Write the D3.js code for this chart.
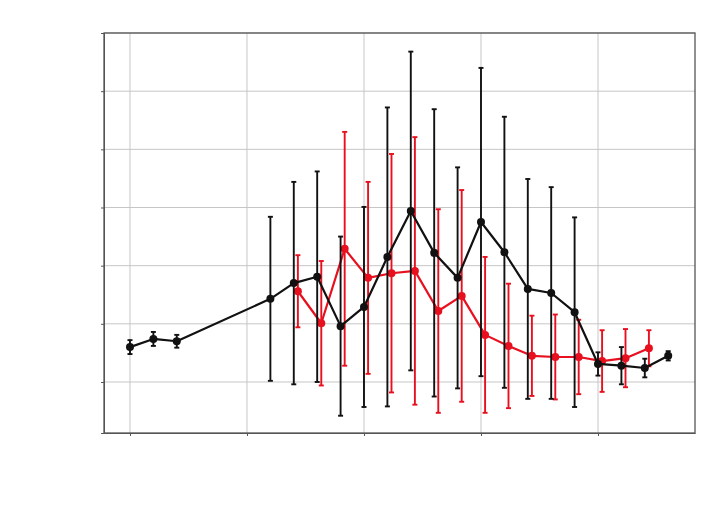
<!DOCTYPE html>
<meta charset="utf-8">
<style>
    body { margin: 0; background: #fff; }
    .grid line { stroke: #c6c6c6; stroke-width: 1px; }
    .axis path, .axis line { stroke: #555; }
    .frame { fill: none; stroke: #555; stroke-width: 1.3px; }
    .series { fill: none; stroke-width: 2.2px; stroke-linejoin: round; }
</style>
<svg width="721" height="519">
    <rect fill="#fff" width="100%" height="100%"></rect>
</svg>
<script src="https://cdn.jsdelivr.net/npm/d3@7"></script>
<script>

    // black series
    var blackX   = [0, 2, 4, 12, 14, 16, 18, 20, 22, 24, 26, 28, 30, 32, 34, 36, 38, 40, 42, 44, 46];
    var blackY   = [1.60, 1.74, 1.70, 2.43, 2.70, 2.81, 1.96, 2.29, 3.15, 3.94, 3.22, 2.79, 3.75, 3.23, 2.60, 2.53, 2.20, 1.31, 1.28, 1.24, 1.45];
    var blackErr = [0.12, 0.12, 0.11, 1.41, 1.74, 1.81, 1.54, 1.72, 2.57, 2.74, 2.47, 1.90, 2.65, 2.33, 1.89, 1.82, 1.63, 0.20, 0.32, 0.16, 0.08];

    // red series
    var redX   = [14.35, 16.35, 18.35, 20.35, 22.35, 24.35, 26.35, 28.35, 30.35, 32.35, 34.35, 36.35, 38.35, 40.35, 42.35, 44.35];
    var redY   = [2.56, 2.01, 3.29, 2.79, 2.87, 2.91, 2.22, 2.48, 1.81, 1.62, 1.45, 1.43, 1.43, 1.36, 1.41, 1.58];
    var redErr = [0.62, 1.07, 2.01, 1.65, 2.05, 2.30, 1.75, 1.82, 1.34, 1.07, 0.69, 0.73, 0.64, 0.53, 0.50, 0.31];

    var xTicks = [0, 10, 20, 30, 40];
    var yTicks = [1, 2, 3, 4, 5, 6, 7];

    var margin = {top: 33, right: 26, bottom: 86, left: 104},
        width = 721 - margin.left - margin.right,
        height = 519 - margin.top - margin.bottom;

    var svg = d3.select("svg");
    var g = svg.append("g").attr("transform", "translate(" + margin.left + "," + margin.top + ")");

    var x = d3.scaleLinear().domain([-2.22, 48.29]).range([0, width]);
    var y = d3.scaleLinear().domain([0.123, 7]).range([height, 0]);

    // grid
    g.append("g").attr("class", "grid")
        .selectAll("line.v").data(xTicks).enter().append("line")
        .attr("x1", x).attr("x2", x).attr("y1", 0).attr("y2", height);
    g.append("g").attr("class", "grid")
        .selectAll("line.h").data(yTicks).enter().append("line")
        .attr("y1", y).attr("y2", y).attr("x1", 0).attr("x2", width);

    // axes, no labels
    g.append("g").attr("class", "axis")
        .attr("transform", "translate(0," + height + ")")
        .call(d3.axisBottom(x).tickValues(xTicks).tickFormat("").tickSize(3).tickSizeOuter(0));
    g.append("g").attr("class", "axis")
        .call(d3.axisLeft(y).tickValues(yTicks).tickFormat("").tickSize(3).tickSizeOuter(3));

    g.append("rect").attr("class", "frame").attr("width", width).attr("height", height);

    function drawSeries(xs, ys, errs, color)
    {
        var data = xs.map(function (d, i) { return {x: d, y: ys[i], e: errs[i]}; });
        var s = g.append("g");

        // error bars
        var eb = s.selectAll("g.eb").data(data).enter().append("g")
            .attr("stroke", color).attr("stroke-width", 1.9);
        eb.append("line")
            .attr("x1", function (d) { return x(d.x); })
            .attr("x2", function (d) { return x(d.x); })
            .attr("y1", function (d) { return y(d.y - d.e); })
            .attr("y2", function (d) { return y(d.y + d.e); });
        [-1, 1].forEach(function (sgn)
        {
            eb.append("line")
                .attr("x1", function (d) { return x(d.x) - 2.5; })
                .attr("x2", function (d) { return x(d.x) + 2.5; })
                .attr("y1", function (d) { return y(d.y + sgn * d.e); })
                .attr("y2", function (d) { return y(d.y + sgn * d.e); });
        });

        var line = d3.line().x(function (d) { return x(d.x); }).y(function (d) { return y(d.y); });
        s.append("path").datum(data).attr("class", "series").attr("stroke", color).attr("d", line);

        s.selectAll("circle").data(data).enter().append("circle")
            .attr("cx", function (d) { return x(d.x); })
            .attr("cy", function (d) { return y(d.y); })
            .attr("r", 4)
            .attr("fill", color);
    }

    drawSeries(redX, redY, redErr, "#e8101e");
    drawSeries(blackX, blackY, blackErr, "#111");

</script>
